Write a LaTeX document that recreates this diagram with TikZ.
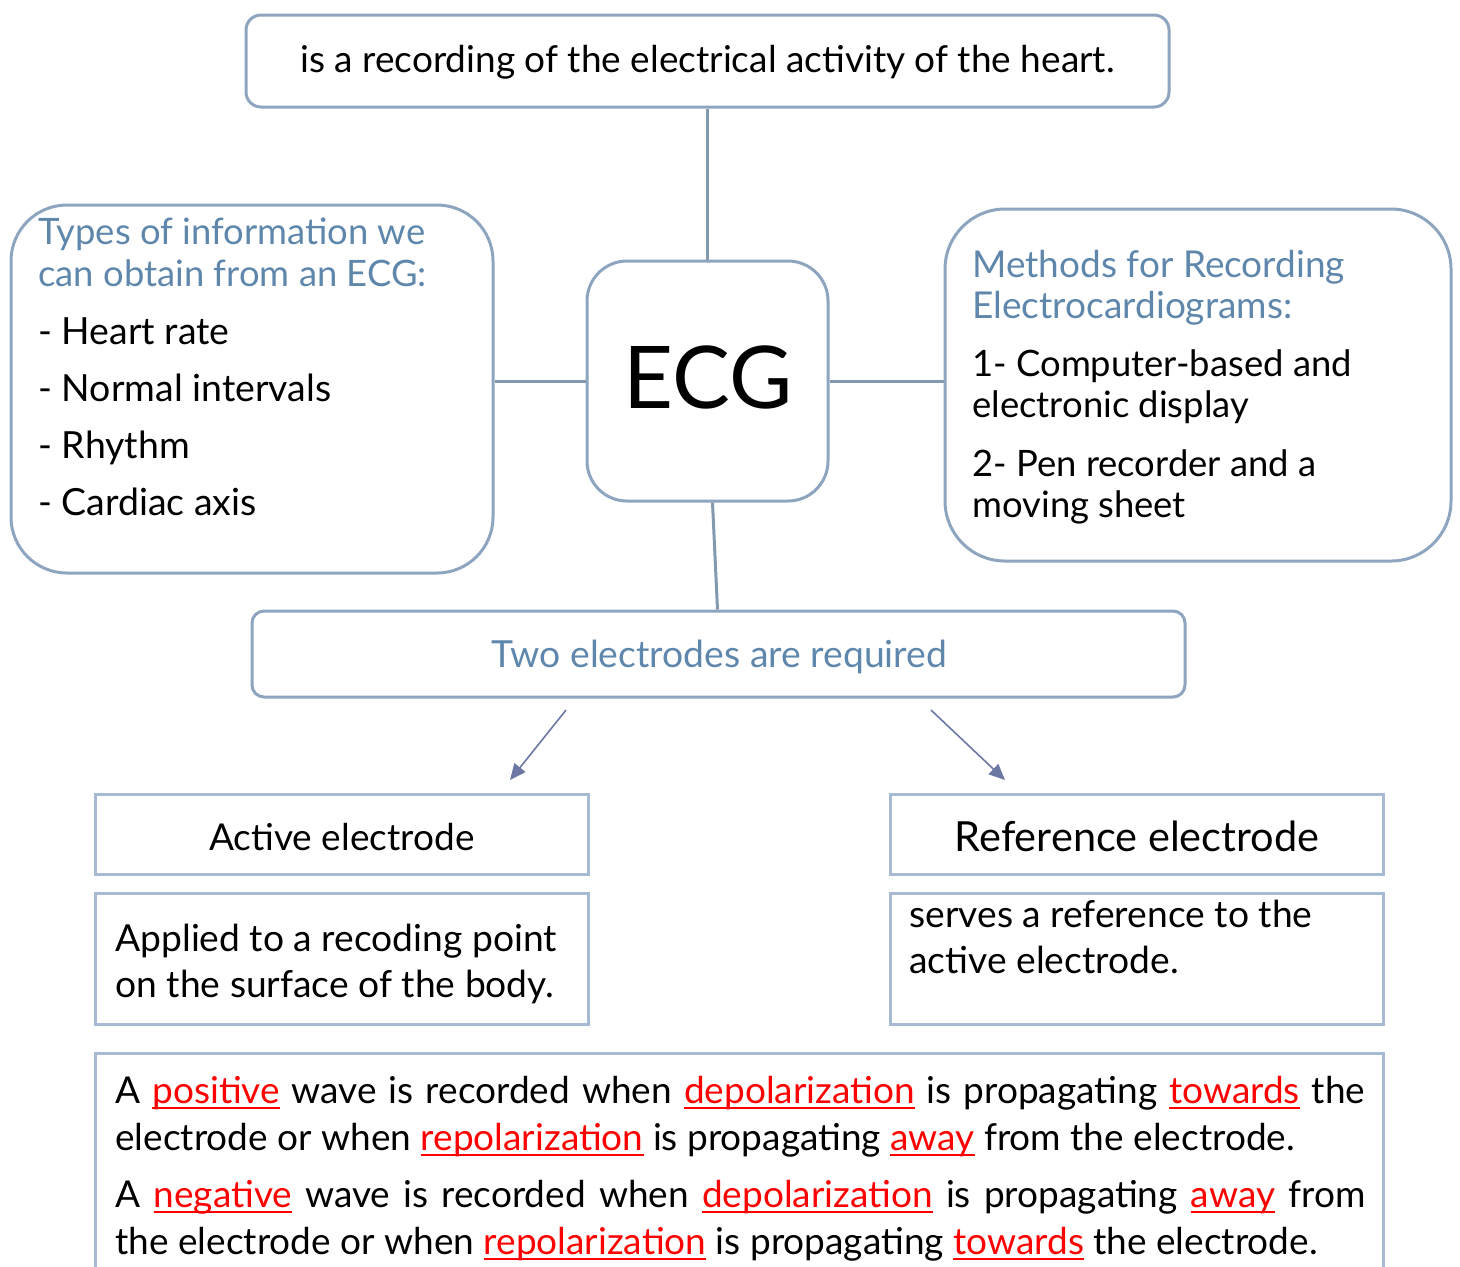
\documentclass[tikz,border=0pt]{standalone}
\usepackage{fontspec}
\setmainfont{Lato}
\usetikzlibrary{fit,arrows.meta}

\definecolor{frame}{HTML}{8DA5BE}
\definecolor{rframe}{HTML}{A6BBD3}
\definecolor{link}{HTML}{8399B0}
\definecolor{arrowc}{HTML}{6C78A3}
\definecolor{titleblue}{HTML}{5F87AC}

% red, underlined key words
\newcommand{\kw}[1]{\textcolor{red}{\setbox0\hbox{#1}\rlap{\rule[-3pt]{\wd0}{1pt}}\box0}}
\newcommand{\fs}[1]{\fontsize{#1}{1.2\dimexpr#1\relax}\selectfont}

\begin{document}
\begin{tikzpicture}[x=0.5pt,y=-0.5pt,
  roundbox/.style={draw=frame, line width=1.5pt, rounded corners=#1, inner sep=0pt},
  rectbox/.style={draw=rframe, line width=1.5pt, inner sep=0pt},
  link/.style={draw=link, line width=1.5pt},
  pointer/.style={draw=arrowc, line width=0.8pt, -{Triangle[length=8pt,width=7pt]}},
  txt/.style={anchor=base west, inner sep=0pt},
  ctr/.style={anchor=base, inner sep=0pt}]
\useasboundingbox (0,0) rectangle (1460,1266);
\clip (0,0) rectangle (1460,1266);

% boxes
\node[roundbox=7.5pt, fit={(246,15) (1169,107)}] (def) {};
\node[roundbox=20pt, fit={(587,261) (828,501)}] (ecg) {};
\node[roundbox=28pt, fit={(11,205) (493,573)}] (info) {};
\node[roundbox=30pt, fit={(945,209) (1451,561)}] (methods) {};
\node[roundbox=6pt, fit={(252,611) (1185,697)}] (two) {};
\node[rectbox, fit={(95,794) (588,874)}] (active) {};
\node[rectbox, fit={(95,893) (588,1024)}] (applied) {};
\node[rectbox, fit={(890,794) (1383,874)}] (reference) {};
\node[rectbox, fit={(890,893) (1383,1024)}] (serves) {};
\node[rectbox, fit={(95,1053) (1383,1320)}] (waves) {};

% connectors
\draw[link] (def) -- (ecg);
\draw[link] (ecg.west) -- (ecg.west -| info.east);
\draw[link] (ecg.east) -- (ecg.east -| methods.west);
\draw[link] ([xshift=2.5pt]ecg.south) -- ([xshift=-0.5pt]two.north);

\coordinate (p1s) at (566,710);
\coordinate (p1e) at (510,780);
\coordinate (p2s) at (931,710);
\coordinate (p2e) at (1005,780);
\draw[pointer] (p1s) -- (p1e);
\draw[pointer] (p2s) -- (p2e);

% texts
\node[ctr, font=\fs{18.5pt}] (deftext) at (707.5,72) {is a recording of the electrical activity of the heart.};
\node[ctr, font=\fs{43.3pt}] (ecgtext) at (708,408) {ECG};

\node[txt, font=\fs{18.2pt}, text=titleblue] (info1) at (38,244) {Types of information we};
\node[txt, font=\fs{18.2pt}, text=titleblue] (info2) at (38,286) {can obtain from an ECG:};
\node[txt, font=\fs{18.7pt}] (info3) at (38,344) {- Heart rate};
\node[txt, font=\fs{18.7pt}] (info4) at (38,401) {- Normal intervals};
\node[txt, font=\fs{18.7pt}] (info5) at (38,458) {- Rhythm};
\node[txt, font=\fs{18.7pt}] (info6) at (38,515) {- Cardiac axis};

\node[txt, font=\fs{18.5pt}, text=titleblue] (meth1) at (972,277) {Methods for Recording};
\node[txt, font=\fs{18.5pt}, text=titleblue] (meth2) at (972,318) {Electrocardiograms:};
\node[txt, font=\fs{18.2pt}] (meth3) at (972,376) {1- Computer-based and};
\node[txt, font=\fs{18.2pt}] (meth4) at (972,417) {electronic display};
\node[txt, font=\fs{18.2pt}] (meth5) at (972,476) {2- Pen recorder and a};
\node[txt, font=\fs{18.2pt}] (meth6) at (972,517) {moving sheet};

\node[ctr, font=\fs{18.65pt}, text=titleblue] (twotext) at (719.5,667) {Two electrodes are required};
\node[ctr, font=\fs{18.5pt}] (activetext) at (342,850) {Active electrode};
\node[ctr, font=\fs{20.75pt}] (reftext) at (1137,851) {Reference electrode};

\node[txt, font=\fs{18.6pt}] (app1) at (115,951) {Applied to a recoding point};
\node[txt, font=\fs{18.6pt}] (app2) at (115,997) {on the surface of the body.};
\node[txt, font=\fs{18.6pt}] (ser1) at (909,927) {serves a reference to the};
\node[txt, font=\fs{18.6pt}] (ser2) at (909,973) {active electrode.};

\node[txt, font=\fs{18.5pt}] (wave1) at (115,1103) {\makebox[625pt][s]{A \kw{positive} wave is recorded when \kw{depolarization} is propagating \kw{towards} the}};
\node[txt, font=\fs{18.5pt}] (wave2) at (115,1150) {electrode or when \kw{repolarization} is propagating \kw{away} from the electrode.};
\node[txt, font=\fs{18.5pt}] (wave3) at (115,1207) {\makebox[625pt][s]{A \kw{negative} wave is recorded when \kw{depolarization} is propagating \kw{away} from}};
\node[txt, font=\fs{18.5pt}] (wave4) at (115,1254) {the electrode or when \kw{repolarization} is propagating \kw{towards} the electrode.};
\end{tikzpicture}
\end{document}
